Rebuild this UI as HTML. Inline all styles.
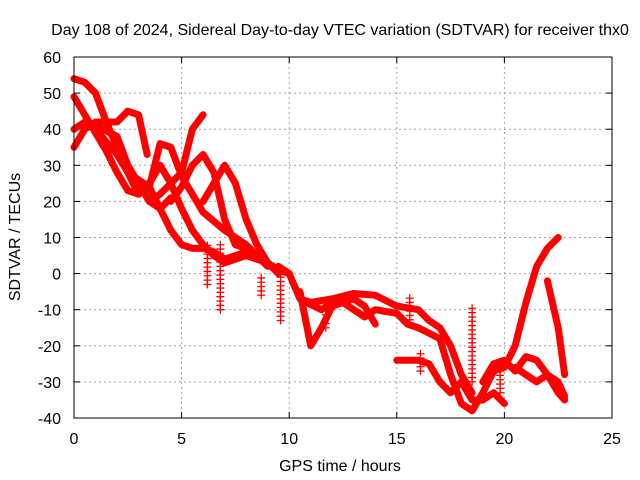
<!DOCTYPE html>
<html><head><meta charset="utf-8"><style>
body{margin:0;background:#fff}
svg{display:block;font-family:"Liberation Sans",sans-serif;font-size:16px}
</style></head><body>
<svg id="chart" width="640" height="480" viewBox="0 0 640 480">
<text x="340" y="35" text-anchor="middle">Day 108 of 2024, Sidereal Day-to-day VTEC variation (SDTVAR) for receiver thx0</text>
<text x="340" y="471" text-anchor="middle">GPS time / hours</text>
<text transform="translate(20,237) rotate(-90)" text-anchor="middle">SDTVAR / TECUs</text>
<g id="grid"></g>
<g id="ticks"></g>
<g id="series"></g>
<rect x="74" y="57" width="538" height="361" fill="none" stroke="#000" stroke-width="1"/>
</svg>
<script>
const xTicks=[0,5,10,15,20,25];
const yTicks=[60,50,40,30,20,10,0,-10,-20,-30,-40];
const trackA=[[0,49],[0.5,44],[1,39],[1.5,34],[2,28],[2.5,23],[3,22],[3.5,25],[4,30],[4.5,25],[5,18],[5.5,12],[6,8],[6.5,5],[7,3],[8,5],[9,3],[9.5,0]];
const trackB=[[0,54],[0.5,53],[1,50],[1.5,42],[2,35],[2.5,28],[3,26],[3.5,24],[4,18],[4.5,12],[5,8],[5.5,7],[6,7],[6.5,6],[7,4],[7.5,5],[8,6]];
const trackC=[[0,35],[0.5,40],[1,42],[1.5,42],[2,42],[2.5,45],[3,44],[3.4,33]];
const trackD=[[0,40],[0.5,42],[1,41],[2,38],[2.5,30],[3,25],[3.5,20],[4,18],[4.5,21]];
const trackE=[[1,40],[2,33],[2.5,28],[3,22],[3.5,24],[4,36],[4.5,35],[5,27],[5.5,22],[6,17],[7,12],[8,8],[9,2]];
const trackF=[[3.5,20],[4,22],[4.5,25],[5,28],[5.5,40],[6,44]];
const trackG=[[4.5,20],[5,24],[5.5,30],[6,33],[6.5,28],[7,15],[7.5,8],[8,7]];
const trackH=[[6,20],[6.5,25],[7,30],[7.5,25],[8,15],[8.5,8],[9,3],[9.5,1],[10,0]];
const trackI=[[9.5,2],[10,0],[10.5,-7],[11,-8],[12,-7],[13,-5.5],[14,-6],[15,-9],[16,-10],[16.5,-13],[17,-15],[17.5,-20],[18,-28],[18.5,-33]];
const trackJ=[[10.5,-5],[11,-20],[11.5,-15],[12,-9],[13,-7],[13.5,-9],[14,-14]];
const trackK=[[10.8,-8],[11.5,-10],[12,-8],[12.5,-8],[13.5,-12],[14,-10],[15,-11],[15.5,-14],[16,-15],[17,-18],[17.5,-28],[18,-36],[18.5,-38]];
const trackL=[[15,-24],[16,-24],[16.5,-25],[17,-30],[17.5,-33],[18,-30],[18.5,-35],[19,-35],[19.5,-33],[20,-36]];
const trackM=[[18.5,-38],[19,-33],[19.5,-27],[20,-26],[20.5,-20],[21,-8],[21.5,2],[22,7],[22.5,10]];
const trackN=[[19,-30],[19.5,-25],[20,-24],[20.5,-27],[21,-23],[21.5,-24],[22,-28],[22.5,-30],[22.8,-34]];
const trackO=[[22,-2],[22.5,-15],[22.8,-28]];
const trackP=[[20.5,-26],[21,-28],[21.5,-30],[22,-28],[22.5,-33],[22.8,-35]];
const tracks=[trackA,trackB,trackC,trackD,trackE,trackF,trackG,trackH,trackI,trackJ,trackK,trackL,trackM,trackN,trackO,trackP];
const spikeX=[6.2,6.8,9.6,8.7,11.7,15.6,18.5,16.1,19.8];
const spikeLo=[-3,-10,-13,-6,-15,-14,-30,-27,-33];
const spikeHi=[8,8,0,0,-7,-6,-9,-22,-26];

const X0=74,X1=612,Y0=418,Y1=57,xMin=0,xMax=25,yMin=-40,yMax=60;
const sx=v=>X0+(v-xMin)/(xMax-xMin)*(X1-X0);
const sy=v=>Y0-(v-yMin)/(yMax-yMin)*(Y0-Y1);
const NS="http://www.w3.org/2000/svg";
function mk(t,a,p){const e=document.createElementNS(NS,t);for(const k in a)e.setAttribute(k,a[k]);p.appendChild(e);return e;}
const grid=document.getElementById('grid'),ticks=document.getElementById('ticks'),ser=document.getElementById('series');
xTicks.forEach(v=>{
  const x=sx(v);
  if(v>xMin&&v<xMax){const g=mk('line',{x1:x,x2:x,y1:Y1,y2:Y0,stroke:'#a0a0a0','stroke-dasharray':'2,3'},grid);
  
  }
  const t=mk('line',{x1:x,x2:x,y1:Y0,y2:Y0-6,stroke:'#000'},ticks);
  
  
  const t2=mk('line',{x1:x,x2:x,y1:Y1,y2:Y1+6,stroke:'#000'},ticks);
  
  
  const l=mk('text',{x:x,y:444,'text-anchor':'middle'},ticks);l.textContent=v;
  
  
});
yTicks.forEach(v=>{
  const y=sy(v);
  if(v>yMin&&v<yMax){const g=mk('line',{x1:X0,x2:X1,y1:y,y2:y,stroke:'#a0a0a0','stroke-dasharray':'2,3'},grid);
  
  }
  const t=mk('line',{x1:X0,x2:X0+6,y1:y,y2:y,stroke:'#000'},ticks);
  
  
  const t2=mk('line',{x1:X1,x2:X1-6,y1:y,y2:y,stroke:'#000'},ticks);
  
  
  const l=mk('text',{x:61,y:y+6,'text-anchor':'end'},ticks);l.textContent=v;
  
  
});
tracks.forEach(tr=>{
  const p=mk('polyline',{points:tr.map(d=>sx(d[0])+','+sy(d[1])).join(' '),fill:'none',stroke:'#ff0000','stroke-width':7,'stroke-linejoin':'round','stroke-linecap':'round'},ser);
  
  
});
spikeX.forEach((sxv,i)=>{
  for(let v=spikeLo[i];v<=spikeHi[i];v+=1.2){
    const x=sx(sxv),y=sy(v);
    const m=mk('path',{d:`M${x-4},${y}H${x+4}M${x},${y-4}V${y+4}`,stroke:'#ff0000','stroke-width':1.3},ser);
    
    
  }
});
</script>
</body></html>
